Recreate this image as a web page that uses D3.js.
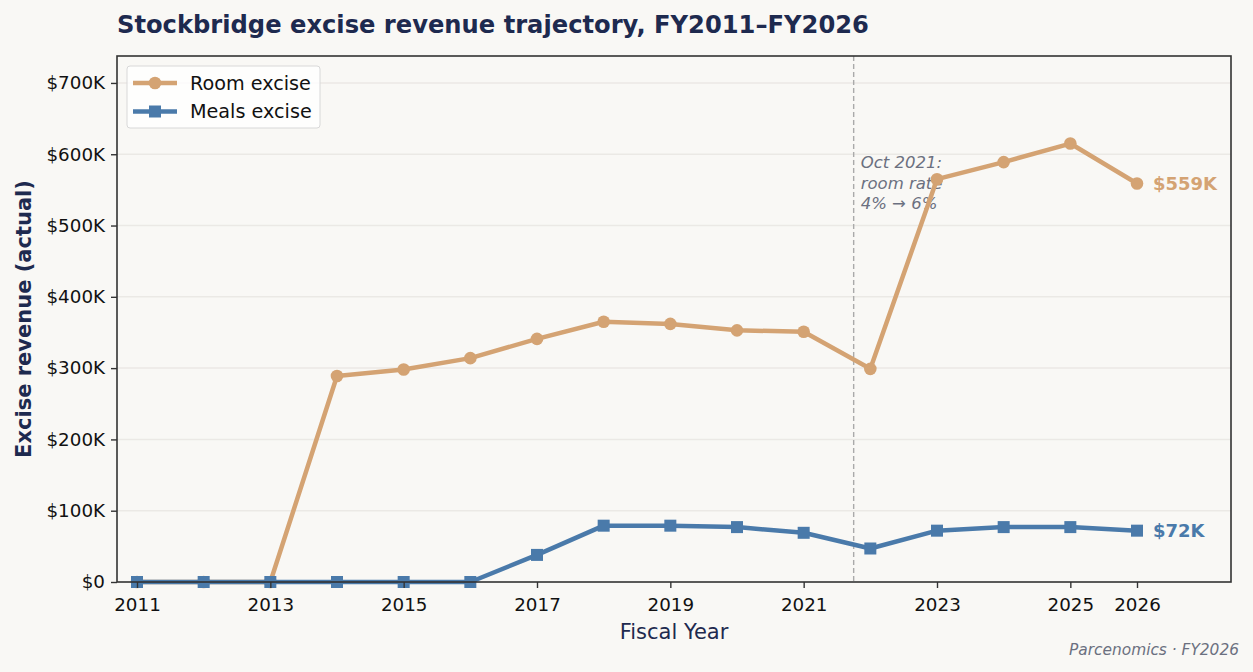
<!DOCTYPE html>
<html>
<head>
<meta charset="utf-8">
<script src="https://cdn.jsdelivr.net/npm/d3@7"></script>
<style>
  body { margin: 0; background: #f9f8f5; font-family: "DejaVu Sans", sans-serif; }
  svg { display: block; }
</style>
</head>
<body>
<svg id="chart"></svg>
<script>
// data
const years = [2011, 2012, 2013, 2014, 2015, 2016, 2017, 2018, 2019, 2020, 2021, 2022, 2023, 2024, 2025, 2026];
const roomExcise  = [0, 0, 0, 289000, 298000, 314000, 341000, 365000, 362000, 353000, 351000, 299000, 565000, 589000, 615000, 559000];
const mealsExcise = [0, 0, 0, 0, 0, 0, 38000, 79000, 79000, 77000, 69000, 47000, 72000, 77000, 77000, 72000];
const xTicks = [2011, 2013, 2015, 2017, 2019, 2021, 2023, 2025, 2026];
const yTicks = [0, 100000, 200000, 300000, 400000, 500000, 600000, 700000];
const rateChangeYear = 2021.75;

const width = 1253, height = 672;
const margin = { top: 56, right: 22, bottom: 90, left: 117 };

const colors = { room: '#d4a373', meals: '#4a7aaa', navy: '#1e2a4f', grid: '#ebe9e5', note: '#6b7080' };

const svg = d3.select('#chart').attr('width', width).attr('height', height);

const x = d3.scaleLinear().domain([2010.7, 2027.41]).range([margin.left, width - margin.right]);
const y = d3.scaleLinear().domain([0, 737800]).range([height - margin.bottom, margin.top]);

const fmt = v => v === 0 ? '$0' : '$' + (v / 1000) + 'K';

// grid
svg.append('g')
  .selectAll('line')
  .data(yTicks.filter(d => d > 0))
  .join('line')
    .attr('x1', margin.left).attr('x2', width - margin.right)
    .attr('y1', d => y(d)).attr('y2', d => y(d))
    .attr('stroke', colors.grid).attr('stroke-width', 1.5);

// rate change line
svg.append('line')
  .attr('x1', x(rateChangeYear)).attr('x2', x(rateChangeYear))
  .attr('y1', margin.top).attr('y2', height - margin.bottom)
  .attr('stroke', '#aaaaaa').attr('stroke-width', 1.4).attr('stroke-dasharray', '5,3');

const note = svg.append('text')
  .attr('x', x(rateChangeYear) + 7).attr('y', 168)
  .attr('fill', colors.note).attr('font-size', 16.5).attr('font-style', 'italic');
['Oct 2021:', 'room rate', '4% \u2192 6%'].forEach((t, i) => {
  note.append('tspan').attr('x', x(rateChangeYear) + 7).attr('dy', i === 0 ? 0 : 20.5).text(t);
});

// lines
const line = d3.line().x((d, i) => x(years[i])).y(d => y(d));

svg.append('path').datum(roomExcise)
  .attr('d', line).attr('fill', 'none')
  .attr('stroke', colors.room).attr('stroke-width', 4.5).attr('stroke-linejoin', 'round');
svg.append('g').selectAll('circle').data(roomExcise).join('circle')
  .attr('cx', (d, i) => x(years[i])).attr('cy', d => y(d)).attr('r', 6.3)
  .attr('fill', colors.room);

svg.append('path').datum(mealsExcise)
  .attr('d', line).attr('fill', 'none')
  .attr('stroke', colors.meals).attr('stroke-width', 4.5).attr('stroke-linejoin', 'round');
svg.append('g').selectAll('rect').data(mealsExcise).join('rect')
  .attr('x', (d, i) => x(years[i]) - 6).attr('y', d => y(d) - 6)
  .attr('width', 12).attr('height', 12)
  .attr('fill', colors.meals);

// end labels
const last = years.length - 1;
svg.append('text')
  .attr('x', x(years[last]) + 16).attr('y', y(roomExcise[last]) + 6.5)
  .attr('fill', colors.room).attr('font-size', 18).attr('font-weight', 'bold')
  .text('$' + Math.round(roomExcise[last] / 1000) + 'K');
svg.append('text')
  .attr('x', x(years[last]) + 16).attr('y', y(mealsExcise[last]) + 6.5)
  .attr('fill', colors.meals).attr('font-size', 18).attr('font-weight', 'bold')
  .text('$' + Math.round(mealsExcise[last] / 1000) + 'K');

// axes
const xAxis = svg.append('g')
  .attr('transform', `translate(0,${height - margin.bottom})`)
  .call(d3.axisBottom(x).tickValues(xTicks).tickFormat(d3.format('d')).tickSize(6).tickPadding(10));
const yAxis = svg.append('g')
  .attr('transform', `translate(${margin.left},0)`)
  .call(d3.axisLeft(y).tickValues(yTicks).tickFormat(fmt).tickSize(6).tickPadding(6));
[xAxis, yAxis].forEach(a => {
  a.select('.domain').remove();
  a.selectAll('line').attr('stroke', '#333').attr('stroke-width', 1.4);
  a.selectAll('text').attr('font-size', 18.3).attr('fill', '#111').attr('font-family', '"DejaVu Sans", sans-serif');
});

// frame
svg.append('rect')
  .attr('x', margin.left).attr('y', margin.top)
  .attr('width', width - margin.left - margin.right)
  .attr('height', height - margin.top - margin.bottom)
  .attr('fill', 'none').attr('stroke', '#333').attr('stroke-width', 1.6);

// titles
svg.append('text')
  .attr('x', margin.left).attr('y', 33)
  .attr('fill', colors.navy).attr('font-size', 24.2).attr('font-weight', 'bold')
  .text('Stockbridge excise revenue trajectory, FY2011\u2013FY2026');

svg.append('text')
  .attr('x', (margin.left + width - margin.right) / 2).attr('y', 639)
  .attr('text-anchor', 'middle')
  .attr('fill', colors.navy).attr('font-size', 21)
  .text('Fiscal Year');

svg.append('text')
  .attr('transform', `translate(31,${(margin.top + height - margin.bottom) / 2}) rotate(-90)`)
  .attr('text-anchor', 'middle')
  .attr('fill', colors.navy).attr('font-size', 21).attr('font-weight', 'bold')
  .text('Excise revenue (actual)');

svg.append('text')
  .attr('x', 1239).attr('y', 655)
  .attr('text-anchor', 'end')
  .attr('fill', colors.note).attr('font-size', 15.4).attr('font-style', 'italic')
  .text('Parcenomics \u00b7 FY2026');

// legend
const legend = svg.append('g').attr('transform', 'translate(127,66)');
legend.append('rect')
  .attr('width', 193).attr('height', 62).attr('rx', 3)
  .attr('fill', '#ffffff').attr('fill-opacity', 0.8)
  .attr('stroke', '#d8d8d8').attr('stroke-width', 1);
const items = [
  { label: 'Room excise', color: colors.room, shape: 'circle' },
  { label: 'Meals excise', color: colors.meals, shape: 'square' }
];
items.forEach((it, i) => {
  const g = legend.append('g').attr('transform', `translate(0,${17 + i * 28.5})`);
  g.append('line').attr('x1', 6).attr('x2', 50).attr('stroke', it.color).attr('stroke-width', 4.5);
  if (it.shape === 'circle') g.append('circle').attr('cx', 28).attr('r', 6.3).attr('fill', it.color);
  else g.append('rect').attr('x', 22).attr('y', -6).attr('width', 12).attr('height', 12).attr('fill', it.color);
  g.append('text').attr('x', 63).attr('y', 6.5).attr('font-size', 19.2).attr('fill', '#111').text(it.label);
});
</script>
</body>
</html>
